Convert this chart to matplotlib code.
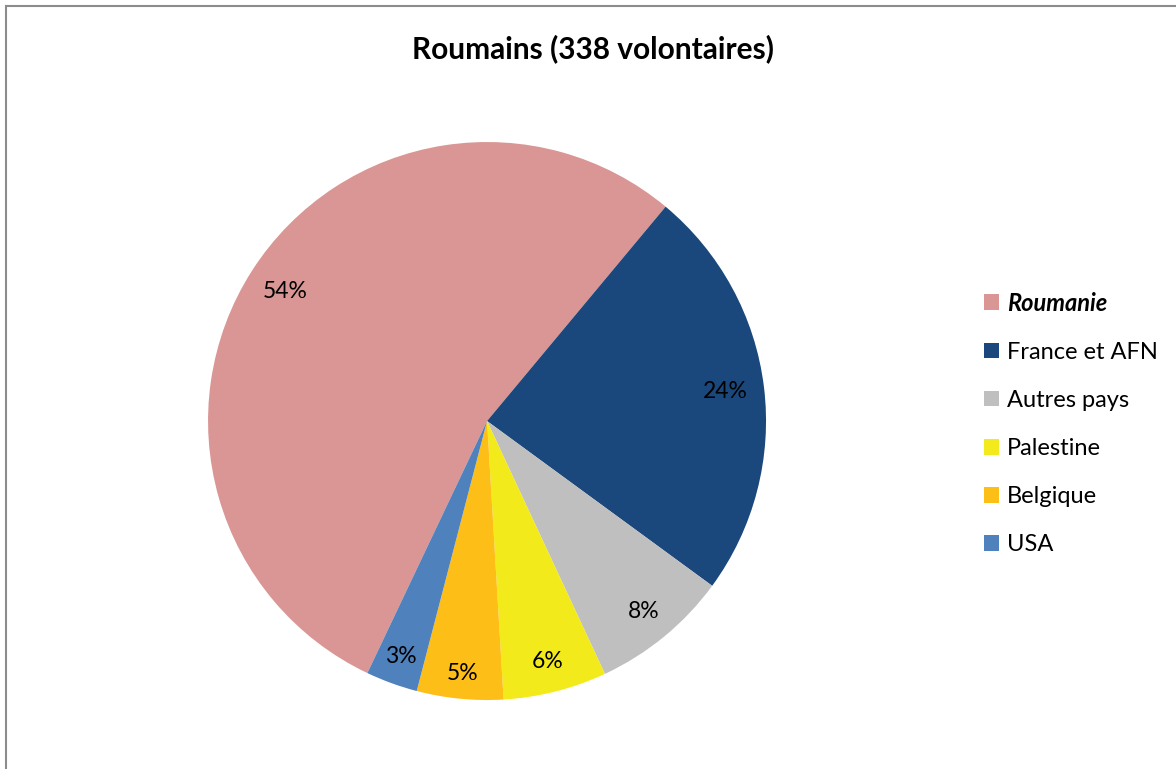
import matplotlib
matplotlib.use("Agg")
import matplotlib.pyplot as plt
import numpy as np
from matplotlib.lines import Line2D

# Origine des volontaires roumains (en %)
pays = ["Roumanie", "France et AFN", "Autres pays", "Palestine", "Belgique", "USA"]
parts = [54, 24, 8, 6, 5, 3]
couleurs = ["#D99694", "#1B487C", "#BFBFBF", "#F2EA1A", "#FDBE17", "#4F81BD"]

plt.rcParams['font.family'] = ['Lato', 'DejaVu Sans']

fig = plt.figure(figsize=(11.76, 7.69), dpi=100)

# pie axes: centre (487, 421) px, radius ~279 px
ax = fig.add_axes([0.1769, 0.0897, 0.4745, 0.7256])
wedges, texts, autotexts = ax.pie(
    parts, colors=couleurs, startangle=-115.4, counterclock=False,
    autopct='%1.0f%%', pctdistance=0.86,
    wedgeprops=dict(linewidth=0),
    textprops=dict(fontsize=16.5, color='black'))

# small slices at the bottom have their labels pushed a bit further out
dist = [0.86, 0.86, 0.885, 0.89, 0.91, 0.90]
for t, d in zip(autotexts, dist):
    x, y = t.get_position()
    r = np.hypot(x, y)
    t.set_position((x / r * d, y / r * d))

ax.set_xlim(-1, 1)
ax.set_ylim(-1, 1)
ax.set_aspect('equal')
ax.axis('off')

fig.text(0.5043, 0.937, "Roumains (338 volontaires)", ha='center', va='center',
         fontsize=21.5, fontweight='bold')

leg = fig.legend(wedges, pays, loc='center left', bbox_to_anchor=(0.8285, 0.4493),
                 frameon=False, fontsize=17, handlelength=0.65, handleheight=0.65,
                 handletextpad=0.35, labelspacing=1.15, borderaxespad=0)
leg.get_texts()[0].set_fontweight('bold')
leg.get_texts()[0].set_fontstyle('italic')

# chart border (left and top)
fig.add_artist(Line2D([0.0047, 0.0047], [0, 0.9922], color='#8C8C8C', lw=1.5,
                      transform=fig.transFigure))
fig.add_artist(Line2D([0.0047, 1], [0.9922, 0.9922], color='#8C8C8C', lw=1.5,
                      transform=fig.transFigure))

fig.savefig("out.png", dpi=100)
